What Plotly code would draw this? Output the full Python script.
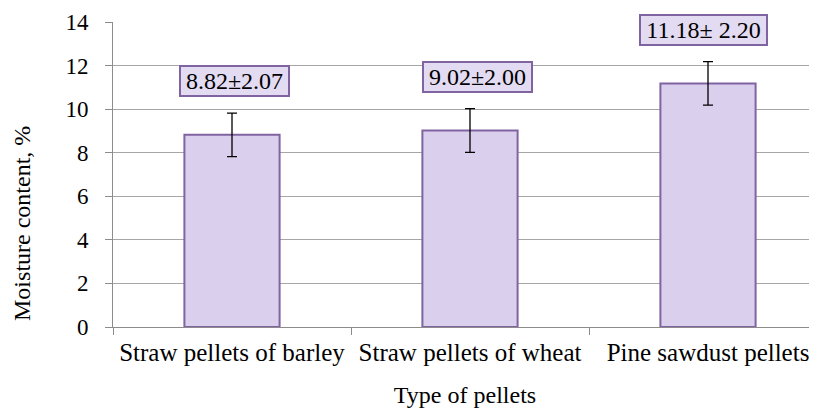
import plotly.graph_objects as go

categories = ["Straw pellets of barley", "Straw pellets of wheat", "Pine sawdust pellets"]
moisture = [8.82, 9.02, 11.18]
error = [1.0, 1.0, 1.0]
labels = ["8.82±2.07", "9.02±2.00", "11.18± 2.20"]
y_ticks = [0, 2, 4, 6, 8, 10, 12, 14]

FONT = "Liberation Serif"
PURPLE = "#8064a2"
GRID = "#a6a6a6"
OFF = 8  # browser body margin

fig = go.Figure()
fig.add_trace(go.Bar(
    x=categories,
    y=moisture,
    width=0.4,
    marker=dict(color="#dbcfee", line=dict(color=PURPLE, width=2)),
    error_y=dict(type="data", array=error, color="black", thickness=1.3, width=5),
    showlegend=False,
))

xshifts = [2, 7, -5]
box_w = [104, 104, 122]
for c, v, e, lab, xs, bw in zip(categories, moisture, error, labels, xshifts, box_w):
    fig.add_annotation(
        x=c, y=v + e, text=lab, showarrow=False,
        yanchor="middle", yshift=32, xshift=xs,
        width=bw, height=25,
        font=dict(family=FONT, size=24, color="black"),
        bgcolor="#e3dbf2", bordercolor=PURPLE, borderwidth=2, borderpad=1.5,
    )

# y-axis title (placed low, as in the original)
fig.add_annotation(
    xref="paper", yref="paper", x=-0.1293, y=0.341,
    text="Moisture content, %", textangle=-90, showarrow=False,
    xanchor="center", yanchor="middle",
    font=dict(family=FONT, size=24, color="black"),
)

fig.update_layout(
    width=817 - OFF, height=412 - OFF,
    margin=dict(l=113 - OFF, r=0, t=22 - OFF, b=85),
    paper_bgcolor="white", plot_bgcolor="white",
    font=dict(family=FONT, size=24, color="black"),
)
fig.update_xaxes(
    type="category",
    range=[-0.5, 2.458],
    showline=True, linecolor="#8c8c8c", linewidth=1,
    ticks="outside", tickson="boundaries", ticklen=7, tickcolor="#8c8c8c",
    showgrid=False,
    tickfont=dict(family=FONT, size=25),
    ticklabelstandoff=3,
    title=dict(text="Type of pellets", font=dict(family=FONT, size=24), standoff=21),
    automargin=False,
)
fig.update_yaxes(
    range=[0, 14],
    tickvals=y_ticks,
    showline=True, linecolor="#8c8c8c", linewidth=1,
    ticks="outside", ticklen=7, tickcolor="#8c8c8c",
    showgrid=True, gridcolor=GRID, gridwidth=1,
    zeroline=False,
    tickfont=dict(family=FONT, size=23),
    ticklabelstandoff=12,
    automargin=False,
)

fig.write_html("out.html")
